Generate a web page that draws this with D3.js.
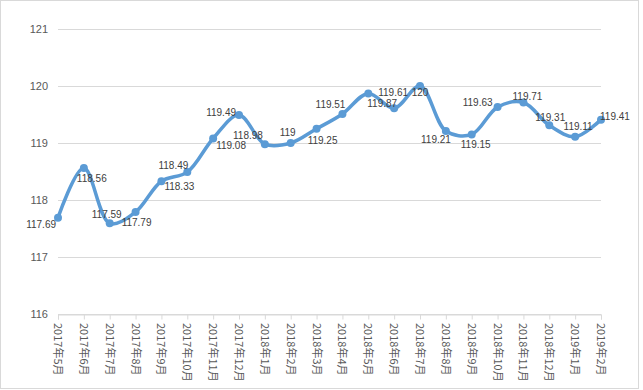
<!DOCTYPE html>
<html>
<head>
<meta charset="utf-8">
<script src="https://cdn.jsdelivr.net/npm/d3@7/dist/d3.min.js"></script>
<style>
  body { margin: 0; background: #fff; }
  svg { display: block; }
</style>
</head>
<body>
<div id="chart"></div>
<script>
// categories + values
const months = ['2017年5月', '2017年6月', '2017年7月', '2017年8月', '2017年9月', '2017年10月',
  '2017年11月', '2017年12月', '2018年1月', '2018年2月', '2018年3月', '2018年4月',
  '2018年5月', '2018年6月', '2018年7月', '2018年8月', '2018年9月', '2018年10月',
  '2018年11月', '2018年12月', '2019年1月', '2019年2月'];
const values = [117.69, 118.56, 117.59, 117.79, 118.33, 118.49, 119.08, 119.49, 118.98, 119,
  119.25, 119.51, 119.87, 119.61, 120, 119.21, 119.15, 119.63, 119.71, 119.31, 119.11, 119.41];
const yTicks = [116, 117, 118, 119, 120, 121];

const width = 643, height = 390;
const margin = { top: 29, right: 42, bottom: 76, left: 58 };

// label nudges (dx, dy of text centre, anchor) copying the excel auto placement
const labelNudge = [
  [-2, 7, 'end'], [-7, 10, 'start'], [-3, -9, 'middle'], [1, 11, 'middle'],
  [3, 5, 'start'], [1, -7, 'end'], [3, 7, 'start'], [-3, -3, 'end'],
  [-2, -9, 'end'], [-3, -11, 'middle'], [6, 12, 'middle'], [3, -9, 'end'],
  [-1, 10, 'start'], [-1, -16, 'middle'], [0, 6, 'middle'], [5, 8, 'end'],
  [4, 10, 'middle'], [-5, -5, 'end'], [4, -6, 'middle'], [1, -8, 'middle'],
  [3, -10, 'middle'], [-1, -3, 'start']
];

const svg = d3.select('#chart').append('svg')
  .attr('width', width)
  .attr('height', height)
  .style('font-family', '"Liberation Sans", "Noto Sans CJK SC", sans-serif');

// outer chart border
svg.append('rect')
  .attr('x', 0.5).attr('y', 0.5)
  .attr('width', 638).attr('height', 388)
  .attr('fill', '#fff')
  .attr('stroke', '#d9d9d9');

const x = d3.scalePoint()
  .domain(months)
  .range([margin.left, width - margin.right]);

const y = d3.scaleLinear()
  .domain([116, 121])
  .range([height - margin.bottom, margin.top]);

// gridlines
svg.append('g')
  .selectAll('line')
  .data(yTicks)
  .join('line')
  .attr('x1', margin.left)
  .attr('x2', width - margin.right)
  .attr('y1', d => Math.round(y(d)) + 0.5)
  .attr('y2', d => Math.round(y(d)) + 0.5)
  .attr('stroke', '#d9d9d9');

// y labels
svg.append('g')
  .selectAll('text')
  .data(yTicks)
  .join('text')
  .attr('x', 48)
  .attr('y', d => y(d))
  .attr('dy', '0.35em')
  .attr('text-anchor', 'end')
  .attr('font-size', 11)
  .attr('fill', '#595959')
  .text(d => d);

// x axis
const xAxis = svg.append('g')
  .attr('transform', `translate(0,${Math.round(y(116)) + 0.5})`)
  .call(d3.axisBottom(x).tickSize(5).tickPadding(0).tickFormat(''));
xAxis.select('.domain').attr('stroke', '#d9d9d9');
xAxis.selectAll('.tick line').attr('stroke', '#d9d9d9');

svg.append('g')
  .selectAll('text')
  .data(months)
  .join('text')
  .attr('transform', d => `translate(${x(d) - 4},${y(116) + 9}) rotate(90)`)
  .attr('font-size', 11)
  .attr('font-family', '"Noto Sans CJK SC", sans-serif')
  .attr('fill', '#595959')
  .text(d => d);

// smoothed line
const line = d3.line()
  .x((d, i) => x(months[i]))
  .y(d => y(d))
  .curve(d3.curveCatmullRom.alpha(0.5));

svg.append('path')
  .datum(values)
  .attr('d', line)
  .attr('fill', 'none')
  .attr('stroke', '#5b9bd5')
  .attr('stroke-width', 3.5)
  .attr('stroke-linecap', 'round');

svg.append('g')
  .selectAll('circle')
  .data(values)
  .join('circle')
  .attr('cx', (d, i) => x(months[i]))
  .attr('cy', d => y(d))
  .attr('r', 4)
  .attr('fill', '#5b9bd5');

// data labels
svg.append('g')
  .selectAll('text')
  .data(values)
  .join('text')
  .attr('x', (d, i) => x(months[i]) + labelNudge[i][0])
  .attr('y', (d, i) => y(d) + labelNudge[i][1])
  .attr('dy', '0.35em')
  .attr('text-anchor', (d, i) => labelNudge[i][2])
  .attr('font-size', 10)
  .attr('fill', '#404040')
  .text(d => d);
</script>
</body>
</html>
